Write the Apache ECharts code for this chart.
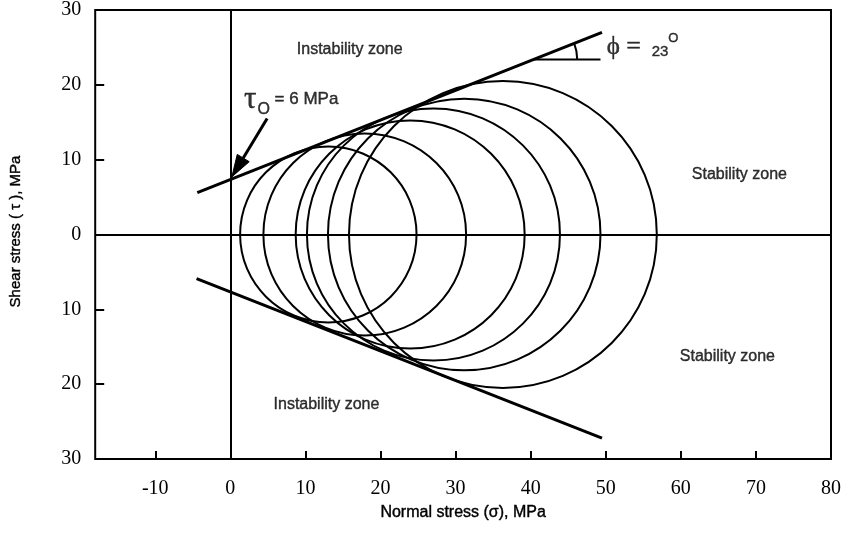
<!DOCTYPE html>
<html><head><meta charset="utf-8">
<script src="https://cdn.jsdelivr.net/npm/echarts@6/dist/echarts.min.js"></script>
<style>html,body{margin:0;padding:0;background:#fff}#c{width:857px;height:545px}</style>
</head><body><div id="c"></div>
<script>
// ---- data ----
const xTickValues = [-10, 0, 10, 20, 30, 40, 50, 60, 70, 80];
const yTickValues = [-30, -20, -10, 0, 10, 20, 30];
// Mohr circles: minor (sigma3) and major (sigma1) principal stresses, MPa
const sigma3 = [1.3, 4.4, 8.7, 10.2, 13.0, 15.8];
const sigma1 = [24.8, 31.4, 39.2, 43.9, 49.3, 56.8];
// failure envelopes
const upperEnvelope = [[-4.4, 5.6], [49.5, 27.0]];
const lowerEnvelope = [[-4.5, -5.9], [49.5, -27.2]];
// friction-angle marker
const angleVertex = [40.4, 23.4];
const angleRayEndSigma = 49.3;
// tau0 arrow
const arrowFrom = [4.9, 15.5];
const arrowTo = [0.2, 7.7];
// zone labels
const zoneNames = ['Instability zone', 'Stability zone', 'Stability zone', 'Instability zone'];
const zonePos = [[15.9, 24.7], [67.8, 8.0], [66.2, -16.3], [12.8, -22.7]];
// annotation positions
const tauLabelPos = [8.1, 18.0];
const phiLabelPos = [54.9, 25.0];

const chart = echarts.init(document.getElementById('c'), null, {renderer: 'canvas'});
const serif = '"Liberation Serif", "DejaVu Serif", serif';
const sans = '"Liberation Sans", Arial, sans-serif';
const ink = {color: '#000', textBorderColor: '#000', textBorderWidth: 0.4};

const circleData = sigma3.map((s, i) => [s, sigma1[i]]);

const option = {
  animation: false,
  backgroundColor: '#fff',
  grid: {left: 95, right: 26, top: 8, bottom: 86, show: true, borderColor: '#000', borderWidth: 2, backgroundColor: 'transparent'},
  xAxis: {
    type: 'value', min: -18, max: 80,
    name: 'Normal stress (σ), MPa', nameLocation: 'middle', nameGap: 37,
    nameTextStyle: Object.assign({fontFamily: sans, fontSize: 16}, ink),
    axisLine: {show: false, onZero: false},
    splitLine: {show: false},
    axisTick: {show: true, inside: true, length: 8, customValues: xTickValues, lineStyle: {color: '#000', width: 2}},
    axisLabel: {customValues: xTickValues, margin: 20, fontFamily: serif, fontSize: 20, color: '#000'}
  },
  yAxis: {
    type: 'value', min: -30, max: 30, interval: 10,
    name: 'Shear stress ( τ ), MPa', nameLocation: 'middle', nameGap: 72, nameRotate: 90,
    nameTextStyle: Object.assign({fontFamily: sans, fontSize: 15, padding: [0, 0, 0, 6]}, ink),
    axisLine: {show: false, onZero: false},
    splitLine: {show: false},
    axisTick: {show: true, inside: true, length: 9, lineStyle: {color: '#000', width: 2}},
    axisLabel: {margin: 14, fontFamily: serif, fontSize: 20, color: '#000',
      formatter: v => String(Math.abs(v))}
  },
  series: [
    {
      type: 'line', data: upperEnvelope, symbol: 'none', silent: true,
      lineStyle: {color: '#000', width: 3},
      markLine: {
        silent: true, symbol: 'none', label: {show: false},
        lineStyle: {color: '#000', width: 2, type: 'solid'},
        data: [{xAxis: 0}, {yAxis: 0}]
      }
    },
    {
      type: 'line', data: lowerEnvelope, symbol: 'none', silent: true,
      lineStyle: {color: '#000', width: 3}
    },
    {
      type: 'custom', data: circleData, silent: true, clip: false,
      encode: {x: 0, y: 1},
      renderItem: function (params, api) {
        const s3 = api.value(0), s1 = api.value(1);
        const c = (s3 + s1) / 2, r = (s1 - s3) / 2;
        const p = api.coord([c, 0]);
        const sz = api.size([r, r]);
        return {type: 'ellipse', shape: {cx: p[0], cy: p[1], rx: sz[0], ry: sz[1]},
          style: {fill: 'none', stroke: '#000', lineWidth: 2}};
      }
    },
    {
      type: 'custom', data: [angleVertex], silent: true, clip: false,
      renderItem: function (params, api) {
        const v = api.coord([api.value(0), api.value(1)]);
        const e = api.coord([angleRayEndSigma, api.value(1)]);
        const a0 = api.coord(upperEnvelope[0]), a1 = api.coord(upperEnvelope[1]);
        const ang = Math.atan2(a1[1] - a0[1], a1[0] - a0[0]);
        const r = api.size([5.8, 0])[0];
        return {type: 'group', children: [
          {type: 'line', shape: {x1: v[0], y1: v[1], x2: e[0], y2: e[1]}, style: {stroke: '#000', lineWidth: 2}},
          {type: 'arc', shape: {cx: v[0], cy: v[1], r: r, startAngle: ang, endAngle: 0, clockwise: true},
            style: {stroke: '#000', lineWidth: 2, fill: 'none'}}
        ]};
      }
    },
    {
      type: 'custom', data: [arrowFrom.concat(arrowTo)], silent: true, clip: false,
      renderItem: function (params, api) {
        const a = api.coord([api.value(0), api.value(1)]);
        const b = api.coord([api.value(2), api.value(3)]);
        const dx = b[0] - a[0], dy = b[1] - a[1];
        const len = Math.sqrt(dx * dx + dy * dy);
        const ux = dx / len, uy = dy / len;
        const hl = 22, hw = 7;
        const bx = b[0] - ux * hl, by = b[1] - uy * hl;
        return {type: 'group', children: [
          {type: 'line', shape: {x1: a[0], y1: a[1], x2: bx, y2: by}, style: {stroke: '#000', lineWidth: 3}},
          {type: 'polygon', shape: {points: [[b[0], b[1]], [bx - uy * hw, by + ux * hw], [bx + uy * hw, by - ux * hw]]},
            style: {fill: '#000', stroke: '#000', lineWidth: 1}}
        ]};
      }
    },
    {
      type: 'scatter', silent: true, symbolSize: 1, itemStyle: {color: 'rgba(0,0,0,0)'},
      data: zoneNames.map((n, i) => ({name: n, value: zonePos[i]})),
      label: Object.assign({show: true, position: 'inside', formatter: '{b}', fontFamily: sans, fontSize: 16}, ink)
    },
    {
      type: 'scatter', silent: true, symbolSize: 1, itemStyle: {color: 'rgba(0,0,0,0)'},
      data: [
        {value: tauLabelPos, name: 'tau'},
        {value: phiLabelPos, name: 'phi'}
      ],
      label: {
        show: true, position: 'inside', color: '#000',
        formatter: function (p) {
          if (p.name === 'tau') return '{t|τ}{sub|O}{eq| = 6 MPa}';
          return '{ph|ϕ}{eq2| = }{n| 23}{sup|O}';
        },
        rich: {
          t: Object.assign({fontFamily: serif, fontSize: 31, lineHeight: 36, verticalAlign: 'middle'}, ink),
          sub: Object.assign({fontFamily: sans, fontSize: 16, lineHeight: 36, verticalAlign: 'bottom', padding: [0, 0, 0, 1]}, ink),
          eq: Object.assign({fontFamily: sans, fontSize: 17, lineHeight: 36, verticalAlign: 'middle'}, ink),
          ph: Object.assign({fontFamily: serif, fontSize: 25, lineHeight: 30, verticalAlign: 'middle'}, ink),
          eq2: Object.assign({fontFamily: serif, fontSize: 26, lineHeight: 30, verticalAlign: 'middle'}, ink),
          n: Object.assign({fontFamily: sans, fontSize: 15, lineHeight: 30, verticalAlign: 'bottom', padding: [0, 0, 3, 0]}, ink),
          sup: Object.assign({fontFamily: sans, fontSize: 13, lineHeight: 30, verticalAlign: 'top'}, ink)
        }
      }
    }
  ]
};
chart.setOption(option);
</script>
</body></html>
